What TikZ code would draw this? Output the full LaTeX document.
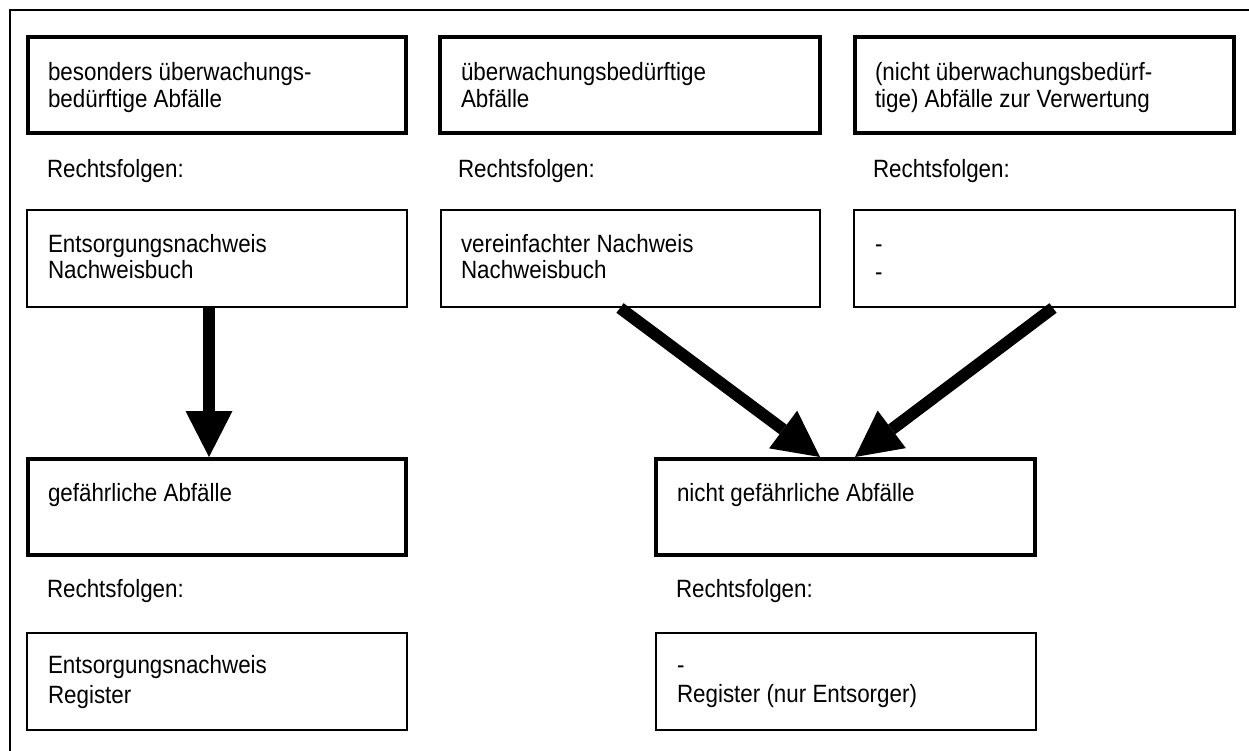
\documentclass[tikz,border=0pt]{standalone}
\usepackage{fontspec}
\setmainfont{Liberation Sans}[FakeStretch=0.895]
\usetikzlibrary{arrows.meta,calc}

\begin{document}
\begin{tikzpicture}[x=1pt,y=-1pt,
  thickbox/.style={draw,line width=4pt,rectangle,inner sep=0pt,outer sep=0pt,
    anchor=north west,minimum height=96pt},
  thinbox/.style={draw,line width=2pt,rectangle,inner sep=0pt,outer sep=0pt,
    anchor=north west,minimum height=97pt},
  txt/.style={anchor=base west,inner sep=0pt,outer sep=0pt,
    font=\fontsize{25}{30}\selectfont},
  bigarrow/.style={line width=12pt,
    -{Triangle[length=46pt,width=47pt,line width=0pt]}}
]
\useasboundingbox (0,0) rectangle (1249,751);

% outer frame
\draw[line width=2pt] (10,760) -- (10,10) -- (1260,10);

% categories (old law)
\node[thickbox,minimum width=378pt] (b1) at (28,37) {};
\node[thickbox,minimum width=380pt] (b2) at (440,37) {};
\node[thickbox,minimum width=379pt] (b3) at (855,37) {};

\node[txt] (t1a) at (48,81)  {besonders überwachungs-};
\node[txt] (t1b) at (48,108) {bedürftige Abfälle};
\node[txt] (t2a) at (461,81)  {überwachungsbedürftige};
\node[txt] (t2b) at (461,108) {Abfälle};
\node[txt] (t3a) at (875,81)  {(nicht überwachungsbedürf-};
\node[txt] (t3b) at (875,108) {tige) Abfälle zur Verwertung};

\node[txt] (r1) at (47,178)  {Rechtsfolgen:};
\node[txt] (r2) at (458,178) {Rechtsfolgen:};
\node[txt] (r3) at (873,178) {Rechtsfolgen:};

% legal consequences (old law)
\node[thinbox,minimum width=380pt] (b1b) at (27,210) {};
\node[thinbox,minimum width=379pt] (b2b) at (441,210) {};
\node[thinbox,minimum width=381pt] (b3b) at (854,210) {};

\node[txt] (u1a) at (48,253) {Entsorgungsnachweis};
\node[txt] (u1b) at (48,278) {Nachweisbuch};
\node[txt] (u2a) at (461,253) {vereinfachter Nachweis};
\node[txt] (u2b) at (461,278) {Nachweisbuch};
\node[txt] (u3a) at (875,253) {-};
\node[txt] (u3b) at (875,280) {-};

% categories (new law)
\node[thickbox,minimum width=378pt] (b4) at (28,459) {};
\node[thickbox,minimum width=379pt] (b5) at (656,459) {};

\node[txt] (t4) at (48,501)  {gefährliche Abfälle};
\node[txt] (t5) at (677,501) {nicht gefährliche Abfälle};

\node[txt] (r4) at (47,597)  {Rechtsfolgen:};
\node[txt] (r5) at (676,597) {Rechtsfolgen:};

% legal consequences (new law)
\node[thinbox,minimum width=380pt] (b6) at (27,633) {};
\node[thinbox,minimum width=380pt] (b7) at (656,633) {};

\node[txt] (u6a) at (48,673) {Entsorgungsnachweis};
\node[txt] (u6b) at (48,703) {Register};
\node[txt] (u7a) at (677,673) {-};
\node[txt] (u7b) at (677,702) {Register (nur Entsorger)};

% transitions
\draw[bigarrow] ($(b1b.south)+(-8,0)$) -- ($(b4.north)+(-8,-2)$);
\draw[bigarrow] ($(b2b.south)+(-10.5,1)$) -- ($(b5.north)+(-25.5,-2)$);
\draw[bigarrow] ($(b3b.south)+(8.5,1)$) -- ($(b5.north)+(9.5,-2)$);
\end{tikzpicture}
\end{document}
